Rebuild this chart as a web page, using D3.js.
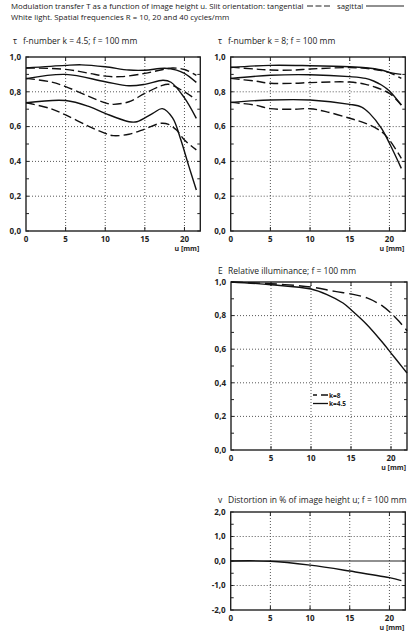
<!DOCTYPE html>
<html>
<head>
<meta charset="utf-8">
<script src="https://cdn.jsdelivr.net/npm/d3@7"></script>
<style>
  body { margin: 0; background: #fff; }
  svg { display: block; font-family: "Open Sans", sans-serif; }
</style>
</head>
<body>
<div id="chart"></div>
<script>
// Modulation transfer, k = 4.5 (sagittal = solid, tangential = dashed), R = 10, 20, 40
const uS10a = [0, 5, 7, 10, 13, 15, 17.5, 19, 20, 21.5];
const tS10a = [0.937, 0.952, 0.955, 0.944, 0.925, 0.924, 0.935, 0.925, 0.906, 0.854];
const uT10a = [0, 5, 8, 10, 12, 15, 17, 18.5, 20, 21.5];
const tT10a = [0.937, 0.929, 0.906, 0.89, 0.887, 0.906, 0.925, 0.937, 0.928, 0.895];
const uS20a = [0, 5, 10, 13, 15, 17.3, 18.3, 20, 21.5];
const tS20a = [0.875, 0.9, 0.858, 0.835, 0.843, 0.866, 0.855, 0.765, 0.647];
const uT20a = [0, 3, 5, 8, 10, 11, 13, 15, 17, 18, 20, 21.5];
const tT20a = [0.877, 0.858, 0.83, 0.772, 0.737, 0.728, 0.743, 0.791, 0.833, 0.843, 0.8, 0.753];
const uS40a = [0, 5, 8, 10, 13, 14, 16, 17.2, 18.5, 19.5, 20.5, 21.5];
const tS40a = [0.737, 0.75, 0.715, 0.676, 0.628, 0.628, 0.676, 0.703, 0.65, 0.53, 0.38, 0.236];
const uT40a = [0, 3, 5, 8, 10, 11, 13, 15, 17, 18, 19, 20, 21.5];
const tT40a = [0.737, 0.705, 0.667, 0.6, 0.561, 0.548, 0.556, 0.586, 0.619, 0.613, 0.58, 0.523, 0.466];

// Modulation transfer, k = 8
const uS10b = [0, 5, 10, 15, 17, 19, 20, 21.5];
const tS10b = [0.94, 0.952, 0.95, 0.944, 0.938, 0.925, 0.912, 0.9];
const uT10b = [0, 3, 5, 8, 10, 15, 17, 19, 20, 21.5];
const tT10b = [0.942, 0.931, 0.925, 0.925, 0.931, 0.939, 0.935, 0.922, 0.91, 0.877];
const uS20b = [0, 5, 10, 15, 17, 18, 19, 20, 21.5];
const tS20b = [0.877, 0.895, 0.898, 0.887, 0.877, 0.862, 0.839, 0.805, 0.724];
const uT20b = [0, 3, 5, 8, 10, 15, 17, 18, 20, 21.5];
const tT20b = [0.877, 0.862, 0.849, 0.849, 0.853, 0.856, 0.843, 0.83, 0.791, 0.724];
const uS40b = [0, 5, 10, 15, 16.5, 17.5, 19, 20, 21.5];
const tS40b = [0.739, 0.753, 0.753, 0.728, 0.712, 0.676, 0.59, 0.504, 0.36];
const uT40b = [0, 3, 5, 8, 10, 12, 15, 17, 19, 20, 21.5];
const tT40b = [0.739, 0.724, 0.703, 0.7, 0.703, 0.686, 0.648, 0.619, 0.571, 0.523, 0.418];

// Relative illuminance
const uE8 = [0, 5, 10, 13, 15, 17, 19, 20, 21, 22];
const eE8 = [1.0, 0.99, 0.97, 0.944, 0.929, 0.905, 0.855, 0.815, 0.766, 0.71];
const uE45 = [0, 5, 10, 12, 14, 15, 17, 19, 20, 21, 22];
const eE45 = [1.0, 0.984, 0.958, 0.925, 0.875, 0.835, 0.746, 0.637, 0.577, 0.518, 0.458];

// Distortion
const uV = [0, 5, 10, 15, 20, 21.5];
const vV = [0, -0.01, -0.17, -0.41, -0.68, -0.8];

const xTicks = [0, 5, 10, 15, 20];
const tLabels = ["0,0", "0,2", "0,4", "0,6", "0,8", "1,0"];
const vLabels = ["-2,0", "-1,0", "0,0", "1,0", "2,0"];

const width = 416, height = 640;
const ink = "#222", gridInk = "#444";

const svg = d3.select("#chart").append("svg")
    .attr("width", width).attr("height", height)
    .attr("viewBox", [0, 0, width, height]);

// header, fitted to the width of the original lines
const h1 = svg.append("text").attr("x", 11).attr("y", 9).attr("font-size", 10).attr("fill", ink)
    .text("Modulation transfer T as a function of image height u. Slit orientation: tangential");
const fs = 10 * 293 / h1.node().getComputedTextLength();
h1.attr("font-size", fs);
svg.append("text").attr("x", 11).attr("y", 19.5).attr("font-size", fs).attr("fill", ink)
    .text("White light. Spatial frequencies R = 10, 20 and 40 cycles/mm");
svg.append("line").attr("x1", 307).attr("x2", 330).attr("y1", 6).attr("y2", 6)
    .attr("stroke", ink).attr("stroke-width", 1.2).attr("stroke-dasharray", "6,2.5");
svg.append("text").attr("x", 337).attr("y", 9).attr("font-size", fs).attr("fill", ink).text("sagittal");
svg.append("line").attr("x1", 366).attr("x2", 404).attr("y1", 6).attr("y2", 6)
    .attr("stroke", ink).attr("stroke-width", 1.2);

function panel(o) {
  const x = d3.scaleLinear().domain([0, 22]).range([o.left, o.right]);
  const y = d3.scaleLinear().domain(o.yDomain).range([o.bottom, o.top]);
  const g = svg.append("g");

  // dotted grid
  g.append("g").selectAll("line").data(xTicks.slice(1)).join("line")
      .attr("x1", d => x(d)).attr("x2", d => x(d))
      .attr("y1", o.top).attr("y2", o.bottom);
  g.append("g").selectAll("line").data(o.gridY).join("line")
      .attr("x1", o.left).attr("x2", o.right)
      .attr("y1", d => y(d)).attr("y2", d => y(d));
  g.selectAll("line").attr("stroke", gridInk).attr("stroke-width", 0.9).attr("stroke-dasharray", "1,2");

  // inward ticks
  const minor = d3.range(o.yDomain[0], o.yDomain[1] + 1e-9, o.minorStep);
  [o.left, o.right].forEach((px, i) => {
    g.append("g").selectAll("line").data(minor).join("line")
        .attr("x1", px).attr("x2", px + (i ? -3 : 3))
        .attr("y1", d => y(d)).attr("y2", d => y(d))
        .attr("stroke", ink).attr("stroke-width", 1);
  });
  [o.top, o.bottom].forEach((py, i) => {
    g.append("g").selectAll("line").data(xTicks.slice(1)).join("line")
        .attr("x1", d => x(d)).attr("x2", d => x(d))
        .attr("y1", py).attr("y2", py + (i ? -4 : 4))
        .attr("stroke", ink).attr("stroke-width", 1);
  });

  if (o.zeroLine) {
    g.append("line").attr("x1", o.left).attr("x2", o.right)
        .attr("y1", y(0)).attr("y2", y(0)).attr("stroke", ink).attr("stroke-width", 1.2);
  }

  // frame
  g.append("rect").attr("x", o.left).attr("y", o.top)
      .attr("width", o.right - o.left).attr("height", o.bottom - o.top)
      .attr("fill", "none").attr("stroke", ink).attr("stroke-width", 1.4);

  // y labels
  g.append("g").selectAll("text").data(o.yLabels).join("text")
      .attr("x", o.left - 5).attr("y", (d, i) => y(o.yLabelVals[i]) + 2.8)
      .attr("text-anchor", "end").attr("font-size", 8).attr("font-weight", 700).attr("fill", ink)
      .text(d => d);
  // x labels
  g.append("g").selectAll("text").data(xTicks).join("text")
      .attr("x", d => x(d)).attr("y", o.bottom + 10.5)
      .attr("text-anchor", "middle").attr("font-size", 8).attr("font-weight", 700).attr("fill", ink)
      .text(d => d);
  g.append("text").attr("x", o.right - 1).attr("y", o.bottom + 20)
      .attr("text-anchor", "end").attr("font-size", 7).attr("font-weight", 700).attr("fill", ink)
      .text("u [mm]");

  // title
  g.append("text").attr("x", o.symX).attr("y", o.titleY).attr("font-size", 8.5).attr("fill", ink).text(o.sym);
  g.append("text").attr("x", o.symX + 10).attr("y", o.titleY).attr("font-size", 8.5).attr("fill", ink).text(o.title);

  // curves
  const line = d3.line().x(d => x(d[0])).y(d => y(d[1])).curve(d3.curveCatmullRom.alpha(0.5));
  o.series.forEach(s => {
    g.append("path").datum(d3.zip(s.u, s.v)).attr("d", line)
        .attr("fill", "none").attr("stroke", "#111").attr("stroke-width", 1.4)
        .attr("stroke-dasharray", s.dash ? o.dash : null);
  });
  return { x, y, g };
}

const tVals = [0, 0.2, 0.4, 0.6, 0.8, 1.0];

panel({
  left: 26, right: 200.3, top: 57, bottom: 231, yDomain: [0, 1], minorStep: 0.1,
  gridY: [0.2, 0.4, 0.6, 0.8], yLabels: tLabels, yLabelVals: tVals,
  sym: "τ", symX: 13, titleY: 44, title: "f-number k = 4.5; f = 100 mm", dash: "9,4",
  series: [
    { u: uS10a, v: tS10a }, { u: uT10a, v: tT10a, dash: true },
    { u: uS20a, v: tS20a }, { u: uT20a, v: tT20a, dash: true },
    { u: uS40a, v: tS40a }, { u: uT40a, v: tT40a, dash: true }
  ]
});

panel({
  left: 230.7, right: 405.3, top: 57, bottom: 231, yDomain: [0, 1], minorStep: 0.1,
  gridY: [0.2, 0.4, 0.6, 0.8], yLabels: tLabels, yLabelVals: tVals,
  sym: "τ", symX: 218, titleY: 44, title: "f-number k = 8; f = 100 mm", dash: "9,4",
  series: [
    { u: uS10b, v: tS10b }, { u: uT10b, v: tT10b, dash: true },
    { u: uS20b, v: tS20b }, { u: uT20b, v: tT20b, dash: true },
    { u: uS40b, v: tS40b }, { u: uT40b, v: tT40b, dash: true }
  ]
});

panel({
  left: 231, right: 407, top: 282, bottom: 450, yDomain: [0, 1], minorStep: 0.1,
  gridY: [0.2, 0.4, 0.6, 0.8], yLabels: tLabels, yLabelVals: tVals,
  sym: "E", symX: 218, titleY: 274, title: "Relative illuminance; f = 100 mm", dash: "12,5",
  series: [{ u: uE8, v: eE8, dash: true }, { u: uE45, v: eE45 }]
});

// legend for illuminance
const legend = [["k=8", true], ["k=4.5", false]];
svg.append("g").selectAll("g").data(legend).join("g")
    .attr("transform", (d, i) => `translate(313,${395 + i * 8.5})`)
    .call(g => g.append("line").attr("x1", 0).attr("x2", 15)
        .attr("stroke", "#111").attr("stroke-width", 1.3)
        .attr("stroke-dasharray", d => d[1] ? "4,4,7" : null))
    .call(g => g.append("text").attr("x", 16).attr("y", 2.5)
        .attr("font-size", 6.5).attr("font-weight", 700).attr("fill", ink).text(d => d[0]));

panel({
  left: 230.7, right: 405.3, top: 512, bottom: 610, yDomain: [-2, 2], minorStep: 0.5,
  gridY: [-1, 1], yLabels: vLabels, yLabelVals: [-2, -1, 0, 1, 2], zeroLine: true,
  sym: "v", symX: 218, titleY: 503, title: "Distortion in % of image height u; f = 100 mm", dash: null,
  series: [{ u: uV, v: vV }]
});
</script>
</body>
</html>
